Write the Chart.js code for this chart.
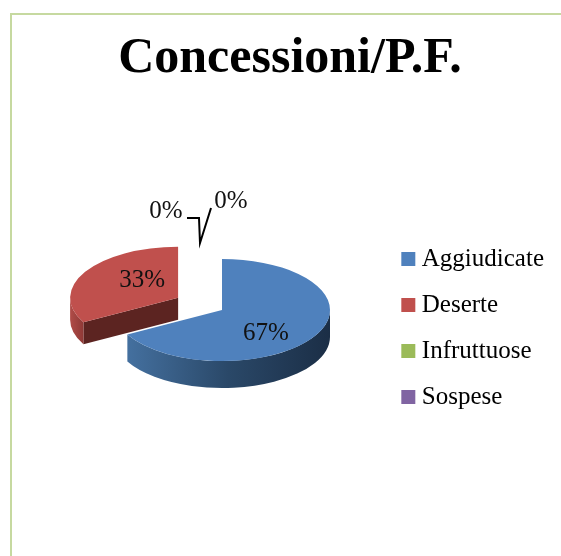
<!DOCTYPE html>
<html>
<head>
<meta charset="utf-8">
<script src="https://cdn.jsdelivr.net/npm/chart.js@4/dist/chart.umd.min.js"></script>
<style>
html,body{margin:0;padding:0;background:#fff;width:561px;height:556px;overflow:hidden}
#frame{position:absolute;left:10px;top:13px;right:-5px;bottom:-5px;border:2px solid #c6d9a0}
canvas{position:absolute;left:0;top:0}
</style>
</head>
<body>
<div id="frame"></div>
<canvas id="c" width="561" height="556"></canvas>
<script>
const chartTitle = 'Concessioni/P.F.';
const categories = ['Aggiudicate', 'Deserte', 'Infruttuose', 'Sospese'];
const shares = [67, 33, 0, 0];
const colors = ['#4f81bd', '#c0504d', '#9bbb59', '#8064a2'];

const FONT = '"Liberation Serif", serif';
const PIE = {x: 222, y: 310, radius: 108, squash: 51 / 108};
const explode = [0, 51, 0, 0];
const depth = [27, 22, 0, 0];
const wallShades = [['#44709f', '#2a4868', '#1b2e46'], ['#b04c48', '#8f3936'], null, null];
const cutShade = '#5c2421';
const labelOffsets = [[44, 23], [-36, -17], [-56, -99], [9, -109]];
const leader = [[-35, -92], [-23, -92], [-22, -67], [-11, -102]];

const pie3d = {
  id: 'pie3d',
  afterDatasetsUpdate(chart) {
    chart.getDatasetMeta(0).data.forEach((arc, i) => {
      const mid = (arc.startAngle + arc.endAngle) / 2;
      arc.x += Math.cos(mid) * explode[i];
      arc.y += Math.sin(mid) * explode[i];
    });
  },
  beforeDatasetsDraw(chart) {
    const ctx = chart.ctx, a = chart.chartArea;
    const cx = (a.left + a.right) / 2, cy = (a.top + a.bottom) / 2;
    ctx.save();
    ctx.translate(PIE.x, PIE.y);
    ctx.scale(1, PIE.squash);
    ctx.translate(-cx, -cy);
    chart.getDatasetMeta(0).data.forEach((arc, i) => {
      const D = depth[i] / PIE.squash;
      if (!D || arc.endAngle <= arc.startAngle) return;
      const r = arc.outerRadius, s = arc.startAngle, e = arc.endAngle;
      // cut face of the slice, visible when it looks toward the viewer
      if (Math.cos(s) < 0 && Math.sin(s) > 0 && i > 0) {
        ctx.beginPath();
        ctx.moveTo(arc.x, arc.y);
        ctx.lineTo(arc.x + Math.cos(s) * r, arc.y + Math.sin(s) * r);
        ctx.lineTo(arc.x + Math.cos(s) * r, arc.y + Math.sin(s) * r + D);
        ctx.lineTo(arc.x, arc.y + D);
        ctx.closePath();
        ctx.fillStyle = cutShade;
        ctx.fill();
      }
      // outer wall: the part of the rim on the near side
      const a1 = Math.max(s, 0), a2 = Math.min(e, Math.PI);
      if (a2 > a1) {
        const g = ctx.createLinearGradient(arc.x + Math.cos(a2) * r, 0, arc.x + Math.cos(a1) * r, 0);
        const st = wallShades[i];
        st.forEach((c, k) => g.addColorStop(k / (st.length - 1), c));
        ctx.beginPath();
        ctx.arc(arc.x, arc.y, r, a1, a2);
        ctx.arc(arc.x, arc.y + D, r, a2, a1, true);
        ctx.closePath();
        ctx.fillStyle = g;
        ctx.fill();
      }
    });
  },
  afterDatasetsDraw(chart) {
    const ctx = chart.ctx;
    ctx.restore();
    ctx.save();
    ctx.strokeStyle = '#000';
    ctx.lineWidth = 2;
    ctx.beginPath();
    leader.forEach((p, i) => {
      const px = PIE.x + p[0], py = PIE.y + p[1];
      if (i) ctx.lineTo(px, py); else ctx.moveTo(px, py);
    });
    ctx.stroke();
    ctx.font = '25px ' + FONT;
    ctx.fillStyle = '#111';
    ctx.textAlign = 'center';
    ctx.textBaseline = 'middle';
    chart.getDatasetMeta(0).data.forEach((arc, i) => {
      const mid = (arc.startAngle + arc.endAngle) / 2;
      const bx = PIE.x + Math.cos(mid) * explode[i];
      const by = PIE.y + Math.sin(mid) * explode[i] * PIE.squash;
      ctx.fillText(shares[i] + '%', bx + labelOffsets[i][0], by + labelOffsets[i][1]);
    });
    ctx.restore();
  }
};

new Chart(document.getElementById('c'), {
  type: 'pie',
  data: {
    labels: categories,
    datasets: [{data: shares, backgroundColor: colors, borderWidth: 0}]
  },
  plugins: [pie3d],
  options: {
    responsive: false,
    animation: false,
    events: [],
    radius: PIE.radius,
    layout: {padding: {left: 26, right: 7, top: 0, bottom: 0}},
    plugins: {
      tooltip: {enabled: false},
      title: {
        display: true,
        text: chartTitle,
        color: '#000',
        font: {family: FONT, size: 50, weight: 'bold'},
        padding: {top: 29, bottom: 11}
      },
      legend: {
        position: 'right',
        fullSize: false,
        labels: {
          color: '#222',
          font: {family: FONT, size: 25},
          boxWidth: 2,
          boxHeight: 2,
          padding: 21,
          generateLabels(chart) {
            return categories.map((t, i) => ({
              text: t, fillStyle: colors[i], strokeStyle: colors[i],
              lineWidth: 12, index: i, hidden: false
            }));
          }
        }
      }
    }
  }
});
</script>
</body>
</html>
